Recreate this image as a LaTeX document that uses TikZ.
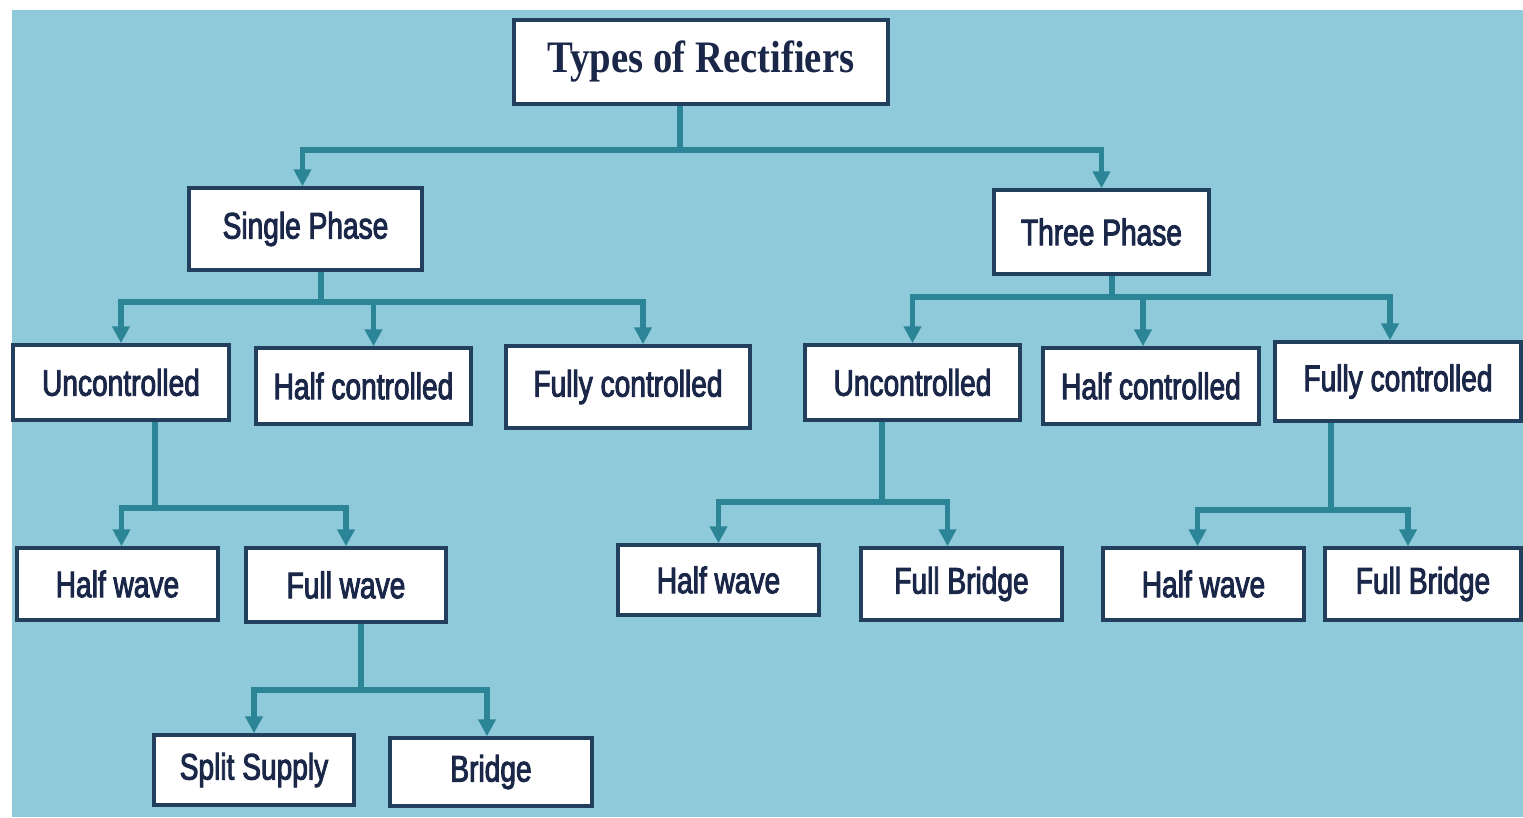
\documentclass[tikz,border=0pt]{standalone}
\usepackage{fontspec}
\usetikzlibrary{arrows.meta,calc}
\newfontfamily\labfont[FakeStretch=0.76,FakeBold=2.5]{Liberation Sans}
\newfontfamily\titlefont[FakeStretch=0.86]{Liberation Serif}
\definecolor{bgblue}{HTML}{8FCADB}
\definecolor{teal}{HTML}{2B8596}
\definecolor{boxline}{HTML}{22405E}
\definecolor{txt}{HTML}{1B2748}
\tikzset{
  box/.style={draw=boxline, line width=3.5pt, fill=white, inner sep=0pt, text=txt,
    font=\labfont\fontsize{37}{40}\selectfont},
  conn/.style={draw=teal, line width=5.5pt},
  arr/.style={-{Triangle[width=17pt,length=17pt]}},
}
\begin{document}
\begin{tikzpicture}[x=1pt,y=-1pt]
\useasboundingbox (0,0) rectangle (1523,817);
\fill[white] (0,0) rectangle (1523,817);
\fill[bgblue] (12,10) rectangle (1523,817);
% nodes
\node[box, minimum width=374pt, minimum height=84pt,
  font=\titlefont\bfseries\fontsize{45}{48}\selectfont] (root) at (701,62) {Types of Rectifiers};
\node[box, minimum width=233pt, minimum height=82pt] (sp) at (305.5,229) {Single Phase};
\node[box, minimum width=215pt, minimum height=84pt] (tp) at (1101.5,232) {Three Phase};
\node[box, minimum width=216pt, minimum height=75pt] (uL) at (121,382.5) {Uncontrolled};
\node[box, minimum width=215pt, minimum height=76pt] (hL) at (363.5,386) {Half controlled};
\node[box, minimum width=244pt, minimum height=82pt] (fL) at (628,387) {Fully controlled};
\node[box, minimum width=215pt, minimum height=75pt] (uR) at (912.5,382.5) {Uncontrolled};
\node[box, minimum width=216pt, minimum height=76pt] (hR) at (1151,386) {Half controlled};
\node[box, minimum width=246pt, minimum height=79pt] (fR) at (1398,381.5) {Fully controlled};
\node[box, minimum width=201pt, minimum height=72pt] (hwL) at (117.5,584) {Half wave};
\node[box, minimum width=200pt, minimum height=74pt] (fw) at (346,585) {Full wave};
\node[box, minimum width=200pt, minimum height=70pt] (ss) at (254,770) {Split Supply};
\node[box, minimum width=202pt, minimum height=68pt] (br) at (491,772) {Bridge};
\node[box, minimum width=201pt, minimum height=70pt] (hwR) at (718.5,580) {Half wave};
\node[box, minimum width=201pt, minimum height=72pt] (fbR) at (961.5,584) {Full Bridge};
\node[box, minimum width=201pt, minimum height=72pt] (hwT) at (1203.5,584) {Half wave};
\node[box, minimum width=196pt, minimum height=72pt] (fbT) at (1423,584) {Full Bridge};
% junctions
\coordinate (j0) at (680,150);
\coordinate (j1) at (321,302);
\coordinate (j2) at (1112,297);
\coordinate (j3) at (155,508);
\coordinate (j4) at (361,690);
\coordinate (j5) at (882,502);
\coordinate (j6) at (1331,510);
% connectors
\draw[conn] (root.south -| j0) -- (j0);
\draw[conn,arr] (j0) -| ($(sp.north)+(-3,0)$);
\draw[conn,arr] (j0) -| (tp.north);

\draw[conn] (sp.south -| j1) -- (j1);
\draw[conn,arr] (j1) -| (uL.north);
\draw[conn,arr] (j1) -| ($(hL.north)+(10,0)$);
\draw[conn,arr] (j1) -| ($(fL.north)+(15,0)$);

\draw[conn] (tp.south -| j2) -- (j2);
\draw[conn,arr] (j2) -| (uR.north);
\draw[conn,arr] (j2) -| ($(hR.north)+(-8,0)$);
\draw[conn,arr] (j2) -| ($(fR.north)+(-8,0)$);

\draw[conn] (uL.south -| j3) -- (j3);
\draw[conn,arr] (j3) -| ($(hwL.north)+(4,0)$);
\draw[conn,arr] (j3) -| (fw.north);

\draw[conn] (fw.south -| j4) -- (j4);
\draw[conn,arr] (j4) -| (ss.north);
\draw[conn,arr] (j4) -| ($(br.north)+(-4,0)$);

\draw[conn] (uR.south -| j5) -- (j5);
\draw[conn,arr] (j5) -| (hwR.north);
\draw[conn,arr] (j5) -| ($(fbR.north)+(-14,0)$);

\draw[conn] (fR.south -| j6) -- (j6);
\draw[conn,arr] (j6) -| ($(hwT.north)+(-6,0)$);
\draw[conn,arr] (j6) -| ($(fbT.north)+(-15,0)$);
\end{tikzpicture}
\end{document}
